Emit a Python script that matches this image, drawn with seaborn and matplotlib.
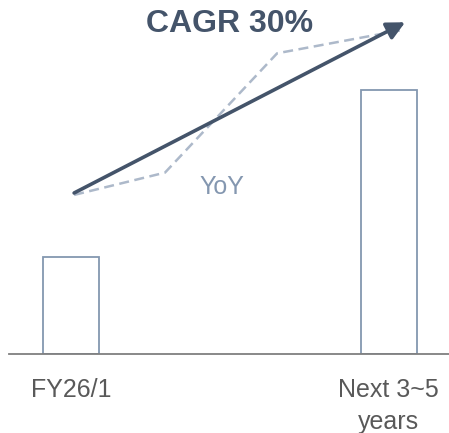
import matplotlib
matplotlib.use("Agg")
import matplotlib.pyplot as plt
import seaborn as sns
import pandas as pd

# Bar data (relative size, FY26/1 = 1.0)
categories = ["FY26/1", "Next 3~5\nyears"]
values = [1.0, 2.72]

# Year-over-year path drawn as a dashed guide
yoy_x = [0.01, 0.296, 0.649, 1.043]
yoy_y = [1.64, 1.87, 3.10, 3.34]

# CAGR trend arrow (start and end)
cagr_start = (0.01, 1.66)
cagr_end = (1.052, 3.42)
cagr_label = "CAGR 30%"
yoy_label = "YoY"

sns.set_theme(style="white")
plt.rcParams["font.family"] = ["Liberation Sans", "DejaVu Sans"]

fig = plt.figure(figsize=(4.49, 4.33), dpi=100)
ax = fig.add_axes([9 / 449, 79 / 433, 440 / 449, 354 / 433])

df = pd.DataFrame({"period": categories, "value": values})
sns.barplot(data=df, x="period", y="value", ax=ax, color="white",
            edgecolor="#8497b0", linewidth=1.3, width=0.176, saturation=1)

ax.plot(yoy_x, yoy_y, color="#adb9ca", lw=1.8, ls=(0, (4, 2.2)), zorder=3)
ax.annotate("", xy=cagr_end, xytext=cagr_start,
            arrowprops=dict(arrowstyle="-|>,head_length=0.9,head_width=0.45",
                            color="#44546a", lw=2.6, shrinkA=0, shrinkB=0),
            zorder=4)

ax.text(0.50, 3.40, cagr_label, ha="center", va="center", fontsize=23,
        fontweight="bold", color="#44546a")
ax.text(0.476, 1.72, yoy_label, ha="center", va="center", fontsize=18,
        color="#8497b0")

ax.set_xlim(-0.195, 1.19)
ax.set_ylim(0, 354 / 97)
for side in ["top", "right", "left"]:
    ax.spines[side].set_visible(False)
ax.spines["bottom"].set_color("#7f7f7f")
ax.spines["bottom"].set_linewidth(1.3)
ax.set_yticks([])
ax.set_xlabel("")
ax.set_ylabel("")
ax.tick_params(axis="x", length=0, pad=17, labelsize=18, labelcolor="#595959")
for lbl in ax.get_xticklabels():
    lbl.set_linespacing(1.45)

fig.savefig("out.png", dpi=100)
